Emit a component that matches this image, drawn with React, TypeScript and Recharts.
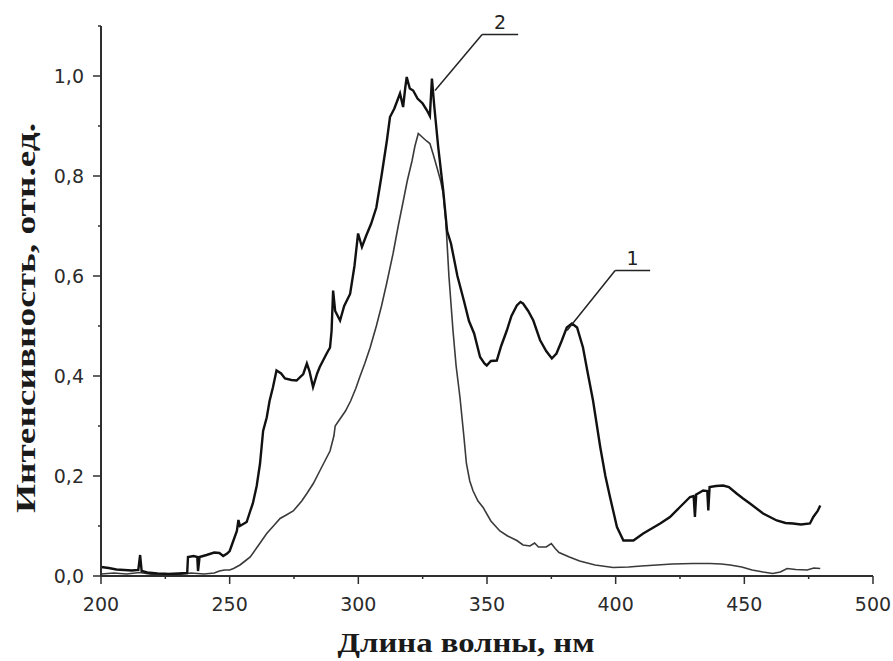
import { LineChart, Line, XAxis, YAxis, ReferenceLine } from "recharts";

// спектр 1 (жирная линия)
const wl1 = [
  200, 203, 206, 209, 212, 214.5, 215.2, 215.8, 218, 222, 226, 230, 233.5, 233.8, 236, 237.4, 237.7, 238.3,
  241, 244, 246, 247.5, 249, 250, 251.4, 252.8, 253.4, 254, 256.6, 258, 259, 260.5, 261.8, 263, 264.4, 265.5,
  266.8, 268.2, 270, 271.5, 274, 276, 278.6, 280, 281, 282.4, 284, 285, 287.7, 289, 289.6, 290.2, 291, 292.9,
  294.5, 296.8, 298.5, 299.9, 301.4, 303, 305, 307, 309, 311.1, 312.3, 314, 316.2, 317.4, 318.2, 318.8, 320,
  321.3, 323, 325, 326.7, 327.8, 328.6, 329.5, 331, 333, 334.5, 336, 338.5, 341, 343, 345, 347.3, 349, 349.9,
  351.5, 353.8, 355.5, 357.7, 359.5, 361.6, 363, 364, 366, 368, 370.6, 373, 375.2, 377, 379, 381, 383, 385,
  387.3, 389, 391.2, 394, 396, 397.8, 400.5, 403, 406.9, 410.7, 414, 417.3, 421.1, 425, 428.9, 430.3, 430.8,
  431.3, 432, 434, 435.6, 436, 436.5, 439, 441.8, 444, 447, 449.5, 452.2, 457.3, 462.6, 466, 468.9, 472,
  475.5, 476.8, 478.5, 479.5,
];
const int1 = [
  0.018, 0.016, 0.013, 0.012, 0.011, 0.012, 0.042, 0.01, 0.007, 0.005, 0.004, 0.005, 0.006, 0.038, 0.04, 0.038,
  0.01, 0.038, 0.042, 0.047, 0.046, 0.04, 0.045, 0.05, 0.07, 0.09, 0.112, 0.1, 0.108, 0.13, 0.145, 0.18, 0.225,
  0.29, 0.317, 0.35, 0.377, 0.411, 0.405, 0.395, 0.392, 0.391, 0.404, 0.425, 0.41, 0.378, 0.405, 0.418, 0.445,
  0.457, 0.49, 0.571, 0.53, 0.511, 0.54, 0.564, 0.62, 0.685, 0.658, 0.68, 0.705, 0.737, 0.8, 0.871, 0.918,
  0.935, 0.965, 0.938, 0.975, 0.998, 0.975, 0.971, 0.955, 0.945, 0.931, 0.92, 0.995, 0.94, 0.86, 0.77, 0.69,
  0.665, 0.6, 0.551, 0.51, 0.485, 0.438, 0.425, 0.421, 0.43, 0.431, 0.46, 0.491, 0.52, 0.541, 0.548, 0.545,
  0.53, 0.511, 0.472, 0.45, 0.435, 0.445, 0.47, 0.497, 0.505, 0.497, 0.457, 0.41, 0.351, 0.258, 0.2, 0.158,
  0.098, 0.071, 0.071, 0.085, 0.095, 0.105, 0.118, 0.138, 0.158, 0.16, 0.118, 0.163, 0.165, 0.171, 0.17, 0.131,
  0.178, 0.18, 0.181, 0.178, 0.165, 0.155, 0.145, 0.125, 0.111, 0.106, 0.105, 0.103, 0.105, 0.118, 0.13, 0.141,
];

// спектр 2 (тонкая линия)
const wl2 = [
  200, 205, 210, 215, 220, 225, 230, 235, 240, 244, 246, 248, 250, 251.5, 254, 256, 258, 261, 264.4, 267, 269.6,
  272, 274.7, 278, 280, 282.5, 285, 287, 289, 290.5, 291, 293, 295, 297, 299, 300.7, 302.5, 304.6, 307, 309,
  311, 313.5, 315.5, 317.5, 319, 320.9, 322, 323.3, 325, 326.5, 327.8, 329, 330.5, 332, 333, 334, 335.2, 336.8,
  338, 339.5, 341, 342, 343.3, 344.6, 346.5, 348.5, 351.5, 355, 358, 361.6, 364, 366.7, 368.5, 370, 373, 375,
  376.5, 378, 382, 386, 392, 399, 405, 410, 416, 422, 430, 436.7, 441, 444.5, 449, 453, 457.3, 461, 464, 466.6,
  470, 474.4, 477, 479.5,
];
const int2 = [
  0.004, 0.006, 0.004, 0.007, 0.003, 0.005, 0.003, 0.006, 0.004, 0.006, 0.01, 0.012, 0.012, 0.015, 0.022, 0.03,
  0.038, 0.06, 0.085, 0.1, 0.115, 0.122, 0.13, 0.15, 0.165, 0.185, 0.21, 0.23, 0.25, 0.28, 0.3, 0.315, 0.33,
  0.35, 0.375, 0.4, 0.425, 0.457, 0.5, 0.54, 0.585, 0.645, 0.7, 0.751, 0.79, 0.831, 0.86, 0.885, 0.877, 0.87,
  0.865, 0.845, 0.818, 0.79, 0.765, 0.71, 0.6, 0.49, 0.42, 0.357, 0.28, 0.225, 0.19, 0.17, 0.15, 0.137, 0.11,
  0.09, 0.08, 0.071, 0.062, 0.06, 0.066, 0.058, 0.058, 0.065, 0.055, 0.047, 0.038, 0.03, 0.022, 0.017, 0.018,
  0.02, 0.022, 0.024, 0.025, 0.025, 0.024, 0.022, 0.018, 0.012, 0.008, 0.005, 0.008, 0.015, 0.013, 0.012,
  0.016, 0.015,
];

const xTicks = [200, 225, 250, 275, 300, 325, 350, 375, 400, 425, 450, 475, 500];
const yTicks = [0, 0.1, 0.2, 0.3, 0.4, 0.5, 0.6, 0.7, 0.8, 0.9, 1.0, 1.1];

const spectrum1 = wl1.map((x, i) => ({ x, y: int1[i] }));
const spectrum2 = wl2.map((x, i) => ({ x, y: int2[i] }));

const axisColor = "#2e2e2e";
const tickFont = "'DejaVu Sans', sans-serif";
const titleFont = "'Liberation Serif', 'Times New Roman', serif";

function XTick({ x, y, payload }: any) {
  const major = payload.value % 50 === 0;
  return (
    <g>
      <line x1={x} x2={x} y1={y} y2={y + (major ? 8 : 3)} stroke={axisColor} strokeWidth={1.5} />
      {major && (
        <text x={x} y={y + 35} textAnchor="middle" fontSize={19} fontFamily={tickFont} fill="#2b2b2b">
          {payload.value}
        </text>
      )}
    </g>
  );
}

function YTick({ x, y, payload }: any) {
  const v = payload.value;
  const major = Math.round(v * 10) % 2 === 0 && v < 1.05;
  return (
    <g>
      <line x1={x} x2={x - (major ? 8 : 3)} y1={y} y2={y} stroke={axisColor} strokeWidth={1.5} />
      {major && (
        <text x={x - 17} y={y} dy="0.36em" textAnchor="end" fontSize={19} fontFamily={tickFont} fill="#2b2b2b">
          {v.toFixed(1).replace(".", ",")}
        </text>
      )}
    </g>
  );
}

export default function App() {
  return (
    <div style={{ position: "absolute", left: 0, top: 0, width: 893, height: 661, background: "#fff" }}>
      <LineChart width={893} height={661} margin={{ top: 26, right: 20, left: 0, bottom: 0 }}>
        <XAxis
          type="number"
          dataKey="x"
          domain={[200, 500]}
          ticks={xTicks}
          interval={0}
          height={85}
          tickSize={0}
          tickMargin={0}
          tickLine={false}
          tick={<XTick />}
          axisLine={{ stroke: axisColor, strokeWidth: 2 }}
          allowDataOverflow
        />
        <YAxis
          type="number"
          dataKey="y"
          domain={[0, 1.1]}
          ticks={yTicks}
          interval={0}
          width={101}
          tickSize={0}
          tickMargin={0}
          tickLine={false}
          tick={<YTick />}
          axisLine={{ stroke: axisColor, strokeWidth: 2 }}
          allowDataOverflow
        />
        <Line
          data={spectrum2}
          dataKey="y"
          type="linear"
          stroke="#3a3a3a"
          strokeWidth={1.6}
          dot={false}
          isAnimationActive={false}
        />
        <Line
          data={spectrum1}
          dataKey="y"
          type="linear"
          stroke="#111"
          strokeWidth={2.4}
          dot={false}
          isAnimationActive={false}
        />
        <ReferenceLine
          segment={[{ x: 329.8, y: 0.971 }, { x: 348.1, y: 1.083 }]}
          stroke="#222"
          strokeWidth={1.5}
          ifOverflow="visible"
        />
        <ReferenceLine
          segment={[{ x: 348.1, y: 1.083 }, { x: 362.1, y: 1.083 }]}
          stroke="#222"
          strokeWidth={1.5}
          ifOverflow="visible"
          label={{ value: "2", position: "top", fontSize: 19, fontFamily: tickFont, fill: "#222", offset: 6 }}
        />
        <ReferenceLine
          segment={[{ x: 381.1, y: 0.491 }, { x: 399.8, y: 0.611 }]}
          stroke="#222"
          strokeWidth={1.5}
          ifOverflow="visible"
        />
        <ReferenceLine
          segment={[{ x: 399.8, y: 0.611 }, { x: 413.4, y: 0.611 }]}
          stroke="#222"
          strokeWidth={1.5}
          ifOverflow="visible"
          label={{ value: "1", position: "top", fontSize: 19, fontFamily: tickFont, fill: "#222", offset: 6 }}
        />
      </LineChart>
      <svg
        width={893}
        height={661}
        style={{ position: "absolute", left: 0, top: 0, pointerEvents: "none" }}
      >
        <text
          x={466}
          y={652}
          textAnchor="middle"
          fontSize={28}
          fontWeight="bold"
          fontFamily={titleFont}
          fill="#1a1a1a"
          textLength={257}
          lengthAdjust="spacingAndGlyphs"
        >
          Длина волны, нм
        </text>
        <text
          transform="translate(35,318) rotate(-90)"
          textAnchor="middle"
          fontSize={28}
          fontWeight="bold"
          fontFamily={titleFont}
          fill="#1a1a1a"
          textLength={390}
          lengthAdjust="spacingAndGlyphs"
        >
          Интенсивность, отн.ед.
        </text>
      </svg>
    </div>
  );
}
